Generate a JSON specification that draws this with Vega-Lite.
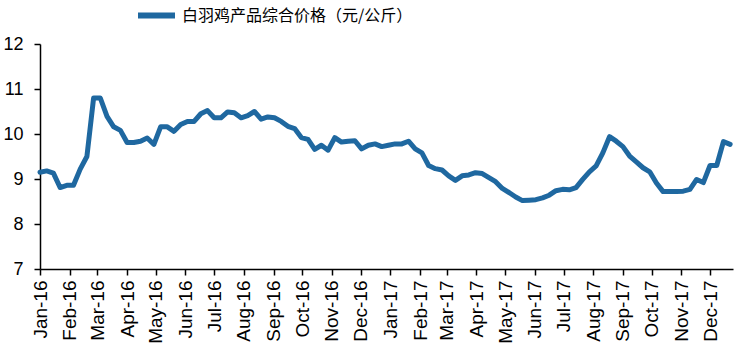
{
  "$schema": "https://vega.github.io/schema/vega-lite/v6.json",
  "width": 693,
  "height": 225,
  "autosize": {"type": "none"},
  "padding": {"left": 40, "top": 44, "right": 11, "bottom": 88},
  "background": "white",
  "config": {"view": {"stroke": null}},
  "data": {"values": [
    {"date": "2016-01-01", "price": 9.15},
    {"date": "2016-01-08", "price": 9.18},
    {"date": "2016-01-15", "price": 9.13},
    {"date": "2016-01-22", "price": 8.81},
    {"date": "2016-01-29", "price": 8.86},
    {"date": "2016-02-05", "price": 8.86},
    {"date": "2016-02-12", "price": 9.22},
    {"date": "2016-02-19", "price": 9.5},
    {"date": "2016-02-26", "price": 10.8},
    {"date": "2016-03-04", "price": 10.8},
    {"date": "2016-03-11", "price": 10.39},
    {"date": "2016-03-18", "price": 10.16},
    {"date": "2016-03-25", "price": 10.08},
    {"date": "2016-04-01", "price": 9.81},
    {"date": "2016-04-08", "price": 9.81},
    {"date": "2016-04-15", "price": 9.84},
    {"date": "2016-04-22", "price": 9.91},
    {"date": "2016-04-29", "price": 9.77},
    {"date": "2016-05-06", "price": 10.16},
    {"date": "2016-05-13", "price": 10.16},
    {"date": "2016-05-20", "price": 10.06},
    {"date": "2016-05-27", "price": 10.21},
    {"date": "2016-06-03", "price": 10.28},
    {"date": "2016-06-10", "price": 10.28},
    {"date": "2016-06-17", "price": 10.45},
    {"date": "2016-06-24", "price": 10.52},
    {"date": "2016-07-01", "price": 10.36},
    {"date": "2016-07-08", "price": 10.36},
    {"date": "2016-07-15", "price": 10.49},
    {"date": "2016-07-22", "price": 10.47},
    {"date": "2016-07-29", "price": 10.36},
    {"date": "2016-08-05", "price": 10.41},
    {"date": "2016-08-12", "price": 10.5},
    {"date": "2016-08-19", "price": 10.33},
    {"date": "2016-08-26", "price": 10.38},
    {"date": "2016-09-02", "price": 10.36},
    {"date": "2016-09-09", "price": 10.28},
    {"date": "2016-09-16", "price": 10.17},
    {"date": "2016-09-23", "price": 10.12},
    {"date": "2016-09-30", "price": 9.92},
    {"date": "2016-10-07", "price": 9.88},
    {"date": "2016-10-14", "price": 9.66},
    {"date": "2016-10-21", "price": 9.75},
    {"date": "2016-10-28", "price": 9.64},
    {"date": "2016-11-04", "price": 9.92},
    {"date": "2016-11-11", "price": 9.82},
    {"date": "2016-11-18", "price": 9.84},
    {"date": "2016-11-25", "price": 9.85},
    {"date": "2016-12-02", "price": 9.67},
    {"date": "2016-12-09", "price": 9.75},
    {"date": "2016-12-16", "price": 9.78},
    {"date": "2016-12-23", "price": 9.72},
    {"date": "2016-12-30", "price": 9.75},
    {"date": "2017-01-06", "price": 9.78},
    {"date": "2017-01-13", "price": 9.78},
    {"date": "2017-01-20", "price": 9.84},
    {"date": "2017-01-27", "price": 9.67},
    {"date": "2017-02-03", "price": 9.58},
    {"date": "2017-02-10", "price": 9.3},
    {"date": "2017-02-17", "price": 9.23},
    {"date": "2017-02-24", "price": 9.2},
    {"date": "2017-03-03", "price": 9.07},
    {"date": "2017-03-10", "price": 8.97},
    {"date": "2017-03-17", "price": 9.07},
    {"date": "2017-03-24", "price": 9.09},
    {"date": "2017-03-31", "price": 9.14},
    {"date": "2017-04-07", "price": 9.12},
    {"date": "2017-04-14", "price": 9.03},
    {"date": "2017-04-21", "price": 8.94},
    {"date": "2017-04-28", "price": 8.79},
    {"date": "2017-05-05", "price": 8.7},
    {"date": "2017-05-12", "price": 8.6},
    {"date": "2017-05-19", "price": 8.52},
    {"date": "2017-05-26", "price": 8.53},
    {"date": "2017-06-02", "price": 8.54},
    {"date": "2017-06-09", "price": 8.58},
    {"date": "2017-06-16", "price": 8.64},
    {"date": "2017-06-23", "price": 8.74},
    {"date": "2017-06-30", "price": 8.77},
    {"date": "2017-07-07", "price": 8.76},
    {"date": "2017-07-14", "price": 8.81},
    {"date": "2017-07-21", "price": 8.99},
    {"date": "2017-07-28", "price": 9.16},
    {"date": "2017-08-04", "price": 9.29},
    {"date": "2017-08-11", "price": 9.58},
    {"date": "2017-08-18", "price": 9.94},
    {"date": "2017-08-25", "price": 9.84},
    {"date": "2017-09-01", "price": 9.72},
    {"date": "2017-09-08", "price": 9.51},
    {"date": "2017-09-15", "price": 9.38},
    {"date": "2017-09-22", "price": 9.25},
    {"date": "2017-09-29", "price": 9.16},
    {"date": "2017-10-06", "price": 8.91},
    {"date": "2017-10-13", "price": 8.72},
    {"date": "2017-10-20", "price": 8.72},
    {"date": "2017-10-27", "price": 8.72},
    {"date": "2017-11-03", "price": 8.73},
    {"date": "2017-11-10", "price": 8.77},
    {"date": "2017-11-17", "price": 8.99},
    {"date": "2017-11-24", "price": 8.92},
    {"date": "2017-12-01", "price": 9.3},
    {"date": "2017-12-08", "price": 9.3},
    {"date": "2017-12-15", "price": 9.83},
    {"date": "2017-12-22", "price": 9.77}
  ]},
  "mark": {"type": "line", "strokeWidth": 5, "strokeJoin": "round", "strokeCap": "round"},
  "encoding": {
    "x": {
      "field": "date",
      "type": "temporal",
      "scale": {"domain": ["2016-01-01", "2017-12-25"], "nice": false},
      "axis": {
        "title": null,
        "format": "%b-%y",
        "tickCount": {"interval": "month", "step": 1},
        "labelAngle": -90,
        "labelAlign": "right",
        "labelBaseline": "middle",
        "labelFont": "Liberation Sans",
        "labelFontSize": 19,
        "labelColor": "black",
        "labelPadding": 5,
        "labelOverlap": false,
        "labelFlush": false,
        "grid": false,
        "domainColor": "black",
        "domainWidth": 1.5,
        "tickColor": "black",
        "tickWidth": 1.5,
        "tickSize": 6
      }
    },
    "y": {
      "field": "price",
      "type": "quantitative",
      "scale": {"domain": [7, 12], "nice": false, "zero": false},
      "axis": {
        "title": null,
        "values": [7, 8, 9, 10, 11, 12],
        "labelFont": "Liberation Sans",
        "labelFontSize": 18,
        "labelColor": "black",
        "labelPadding": 11,
        "grid": false,
        "domainColor": "black",
        "domainWidth": 1.5,
        "tickColor": "black",
        "tickWidth": 1.5,
        "tickSize": 6
      }
    },
    "color": {
      "datum": "白羽鸡产品综合价格（元/公斤）",
      "scale": {"range": ["#1F68A0"]},
      "legend": {
        "title": null,
        "orient": "none",
        "legendX": 95,
        "legendY": -50,
        "symbolType": "stroke",
        "symbolSize": 1369,
        "symbolStrokeWidth": 6,
        "labelFont": "Noto Sans CJK SC",
        "labelFontSize": 16,
        "labelColor": "black",
        "labelOffset": 4,
        "labelLimit": 0
      }
    }
  }
}
